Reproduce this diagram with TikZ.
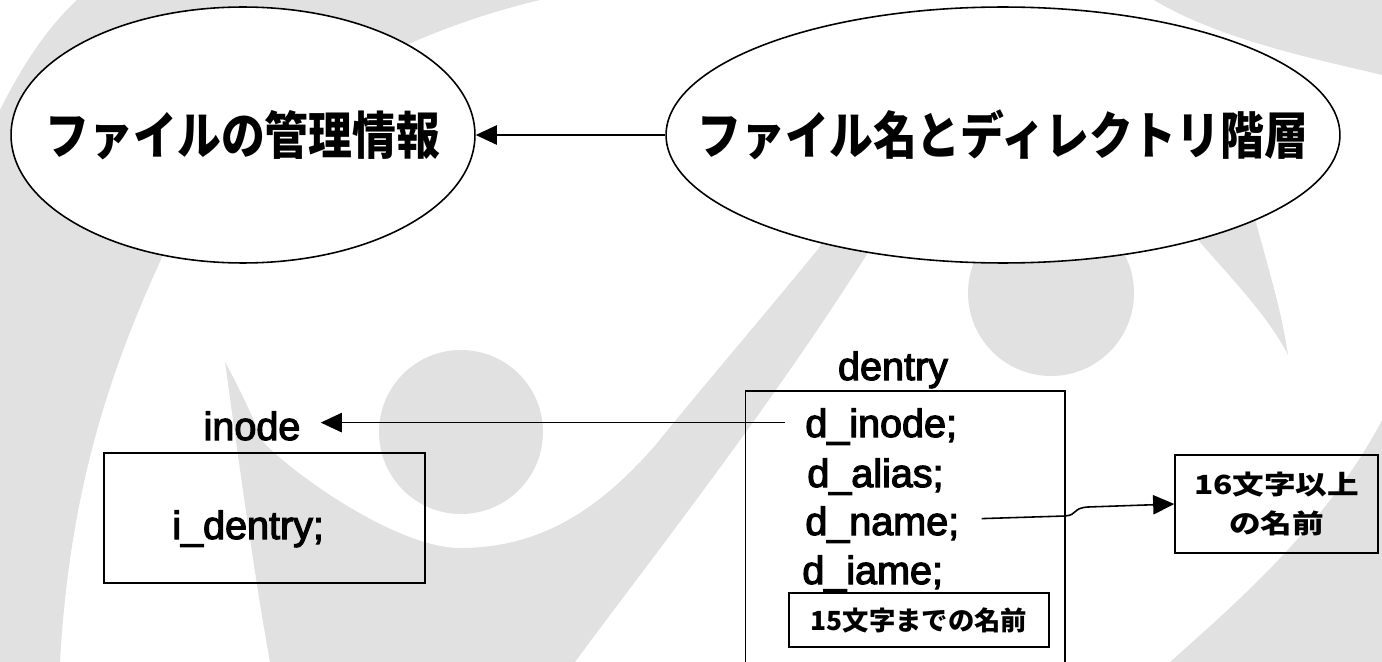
\documentclass[tikz,border=0pt]{standalone}
\usepackage{fontspec}
\setmainfont[FakeBold=3]{Liberation Sans}
\newfontfamily\jpfont[FakeStretch=0.86]{Noto Sans CJK JP}
\newfontfamily\jpwide[FakeStretch=1.2]{Noto Sans CJK JP}
\newfontfamily\jpplain{Noto Sans CJK JP}
\usetikzlibrary{%
  arrows.meta,%
  calc,%
  shapes.geometric%
}
\definecolor{wmgray}{HTML}{E1E1E1}
\tikzset{>={Triangle[length=12pt,width=11pt]}}
\tikzset{
  bubble/.style={draw,ellipse,fill=white,line width=0.9pt,inner sep=0pt,
    font=\jpfont\bfseries\fontsize{29}{34}\selectfont},
  code/.style={inner sep=0pt,font=\fontsize{22.5}{27}\selectfont},
  frame/.style={draw,line width=0.9pt,inner sep=0pt},
  jpnote/.style={font=\jpwide\bfseries\fontsize{15}{22}\selectfont},
}

\begin{document}
\begin{tikzpicture}[x=0.02cm,y=-0.02cm]
    \useasboundingbox (0,0) rectangle (1382,662);
    \clip (0,0) rectangle (1382,662);
    \fill[wmgray] (77,0) -- (540,0) .. controls (330,50) and (200,170) .. (163,255)
      .. controls (115,360) and (70,480) .. (60,662) -- (0,662) -- (0,110)
      .. controls (25,60) and (50,25) .. (77,0);
    \fill[wmgray] (1154,0) -- (1382,0) -- (1382,75) .. controls (1320,60) and (1220,40) .. (1154,0);
    \fill[wmgray] (1150,180) .. controls (1200,250) and (1260,300) .. (1288,355)
      .. controls (1280,300) and (1262,250) .. (1245,180) -- cycle;
    \fill[wmgray] (1051,293) circle [radius=83];
    \fill[wmgray] (461,432) circle [radius=82];
    \fill[wmgray] (225,362) .. controls (240,470) and (255,580) .. (270,662) -- (575,662)
      .. controls (650,560) and (800,370) .. (900,200) -- (840,200) -- (819,248)
      .. controls (760,320) and (700,390) .. (658,442)
      .. controls (600,510) and (540,548) .. (460,548)
      .. controls (400,548) and (300,480) .. (263,442)
      .. controls (250,410) and (235,380) .. (225,362) -- cycle;
    \fill[wmgray] (1382,420) .. controls (1330,520) and (1240,600) .. (1170,662) -- (1382,662) -- cycle;

    \node[bubble,minimum width=9.28cm,minimum height=5.12cm] (info) at (243,135)
      {\makebox[0pt]{ファイルの管理情報}};
    \node[bubble,minimum width=13.48cm,minimum height=5.12cm] (tree) at (1003,135)
      {\makebox[0pt]{ファイル名とディレクトリ階層}};
    \draw[->,line width=0.9pt] (tree.west) -- (info.east);

    \node[code,anchor=base] (inode) at (252,440) {inode};
    \node[frame,minimum width=6.42cm,minimum height=2.6cm] (inodebox) at (264.5,518) {};
    \node[code,anchor=base west] (identry) at (172,539) {i\_dentry;};

    \node[code,anchor=base] (dentry) at (893,380) {dentry};
    \node[frame,minimum width=6.4cm,minimum height=6cm,anchor=north west] (dentrybox) at (744.5,390) {};
    \node[code,anchor=base west] (dinode) at (805,437) {d\_inode;};
    \node[code,anchor=base west] (dalias) at (807,487) {d\_alias;};
    \node[code,anchor=base west] (dname) at (805,535) {d\_name;};
    \node[code,anchor=base west] (diame) at (802,584) {d\_iame;};
    \node[frame,font=\jpplain\bfseries\fontsize{15}{22}\selectfont,minimum width=5.2cm,minimum height=1.08cm]
      (shortname) at (919,620) {15文字までの名前};
    \node[frame,jpnote,align=center,minimum width=4.06cm,minimum height=1.96cm] (longname) at (1276.5,504)
      {16文字以上\\の名前};

    \draw[->,line width=0.9pt] ($(dinode.west)+(-20,-4)$) -- ($(dinode.west -| inode.east)+(20,-4)$);
    \draw[->,line width=0.9pt] ($(dname.east)+(22,-6)$) -- (1065,516)
      .. controls (1078,515) and (1072,508) .. (1088,507) -- (longname.west);
\end{tikzpicture}
\end{document}
